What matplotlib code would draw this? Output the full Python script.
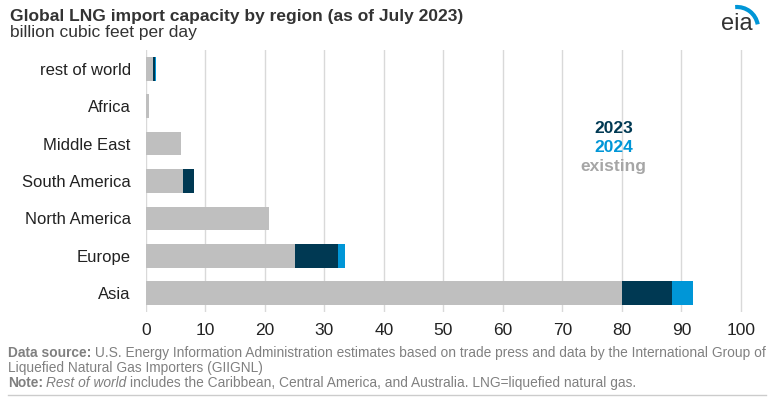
import matplotlib
matplotlib.use("Agg")
import matplotlib.pyplot as plt
from matplotlib.patches import Arc
import numpy as np

regions = ["rest of world", "Africa", "Middle East", "South America", "North America", "Europe", "Asia"]
existing = [1.25, 0.55, 5.8, 6.2, 20.7, 25.0, 80.0]
add_2023 = [0.3, 0.0, 0.0, 1.8, 0.0, 7.3, 8.4]
add_2024 = [0.2, 0.0, 0.0, 0.0, 0.0, 1.2, 3.5]
xticks = [0, 10, 20, 30, 40, 50, 60, 70, 80, 90, 100]

C_EX = "#BFBFBF"
C_23 = "#003953"
C_24 = "#0096D7"

plt.rcParams['font.family'] = ['Liberation Sans', 'DejaVu Sans']

W, H = 774, 399
fig = plt.figure(figsize=(W/100, H/100), dpi=100)
ax = fig.add_axes([146/W, 1-312/H, (745-146)/W, (312-50)/H])

y = np.arange(len(regions))
h = 0.63
ex = np.array(existing); a23 = np.array(add_2023); a24 = np.array(add_2024)
ax.barh(y, ex, height=h, color=C_EX, zorder=3)
ax.barh(y, a23, left=ex, height=h, color=C_23, zorder=3)
ax.barh(y, a24, left=ex+a23, height=h, color=C_24, zorder=3)

ax.set_ylim(len(regions)-0.5, -0.5)
ax.set_xlim(0, 100.7)
ax.set_yticks(y)
ax.set_yticklabels(regions, fontsize=12.0, color="#222222")
ax.set_xticks(xticks)
ax.set_xticklabels([str(t) for t in xticks], fontsize=12.5, color="#222222")
ax.tick_params(axis='y', length=0, pad=11)
ax.tick_params(axis='x', length=0, pad=8)
for s in ax.spines.values():
    s.set_visible(False)
ax.xaxis.grid(True, color="#D9D9D9", linewidth=1, zorder=0)
ax.set_axisbelow(True)

# legend text
lx = 78.6
ax.text(lx, 1.59, "2023", color=C_23, fontsize=12.5, fontweight='bold', ha='center', va='center')
ax.text(lx, 2.10, "2024", color=C_24, fontsize=12.5, fontweight='bold', ha='center', va='center')
ax.text(lx, 2.61, "existing", color="#A6A6A6", fontsize=12.5, fontweight='bold', ha='center', va='center')

fig.text(10/W, 1-17/H, "Global LNG import capacity by region (as of July 2023)", fontsize=12.5,
         fontweight='bold', color="#333333", va='center', ha='left')
fig.text(10/W, 1-33/H, "billion cubic feet per day", fontsize=12.5, color="#333333", va='center', ha='left')

# eia logo
fig.text(737/W, 1-24/H, "eia", fontsize=17, color="#333333", ha='center', va='center')
lax = fig.add_axes([715/W, 1-42/H, 50/W, 40/H])
lax.set_xlim(0, 50); lax.set_ylim(0, 40); lax.axis('off')
lax.add_patch(Arc((22, 14), 42, 42, theta1=10, theta2=95, color=C_24, linewidth=3))

gray = "#808080"
fs = 9.9
fig.canvas.draw()
r = fig.canvas.get_renderer()

def line_parts(ypix, parts):
    x = 8/W
    for txt, kw in parts:
        t = fig.text(x, 1-ypix/H, txt, fontsize=fs, color=gray, va='center', ha='left', **kw)
        bb = t.get_window_extent(r)
        x = bb.x1/W + 3.5/W

line_parts(353, [("Data source:", dict(fontweight='bold')),
                 ("U.S. Energy Information Administration estimates based on trade press and data by the International Group of", {})])
line_parts(368, [("Liquefied Natural Gas Importers (GIIGNL)", {})])
line_parts(383, [("Note:", dict(fontweight='bold')), ("Rest of world", dict(style='italic')),
                 ("includes the Caribbean, Central America, and Australia. LNG=liquefied natural gas.", {})])
fig.add_artist(plt.Line2D([8/W, 766/W], [1-395/H, 1-395/H], color="#CCCCCC", linewidth=1))

fig.savefig("out.png", dpi=100)
